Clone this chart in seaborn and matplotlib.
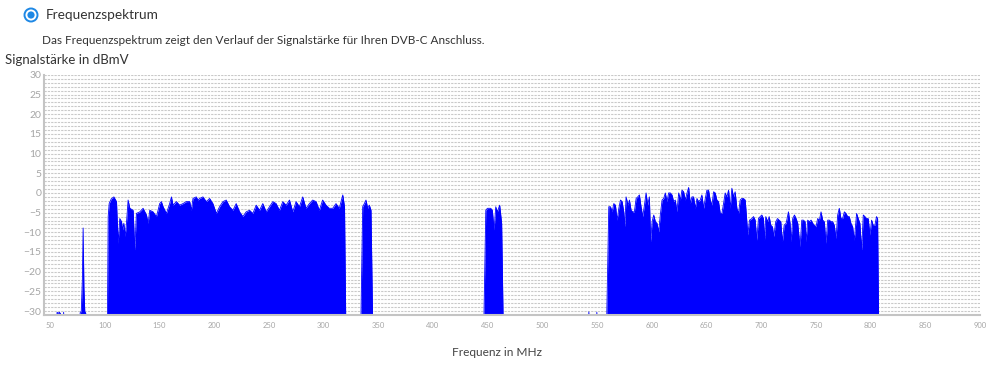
import matplotlib
matplotlib.use("Agg")
import matplotlib.pyplot as plt
from matplotlib.patches import Circle
from matplotlib.transforms import IdentityTransform
from matplotlib.ticker import MultipleLocator
import seaborn as sns

# spectrum (MHz, dBmV); -35 = below the visible floor
freq_mhz = [
    45, 55.5, 56.5, 57.5, 58.5, 59.5, 60.5, 62.0, 62.5, 63.0,
    77.0, 77.6, 78.6, 79.6, 80.3, 81.0, 81.8, 82.6, 83.2,
    102.4, 103.2, 104.1, 106.0, 108.4, 110.8, 112.3, 113.8, 115.4, 116.3, 117.5, 118.7,
    119.9, 121.4, 123.0, 126.0, 127.5, 129.0, 132.1, 135.1, 138.2, 139.7, 141.2, 144.2,
    147.3, 150.3, 151.8, 153.4, 156.4, 159.4, 161.0, 162.5, 165.5, 168.5, 171.6, 174.6,
    177.7, 179.2, 180.7, 183.7, 185.3, 186.8, 189.8, 192.9, 195.9, 198.9, 202.0, 205.0,
    208.1, 211.1, 214.1, 217.2, 220.2, 223.3, 226.3, 229.3, 232.4, 235.4, 238.5, 241.5,
    244.5, 247.6, 250.6, 253.7, 256.7, 259.7, 262.8, 265.8, 268.9, 271.9, 274.9, 278.0,
    281.0, 284.0, 287.1, 290.1, 293.2, 296.2, 299.2, 302.3, 305.3, 308.4, 311.4, 314.4,
    317.6, 319.2, 320.4,
    334.0, 335.8, 337.3, 338.8, 340.4, 341.9, 343.4, 345.0,
    446.4, 448.3, 449.8, 452.8, 454.3, 455.9, 457.4, 458.9, 461.0, 462.8, 464.3,
    541.7, 542.5, 543.3, 549.0, 549.8, 550.6,
    558.6, 560.7, 562.3, 563.8, 565.3, 566.8, 568.3, 569.9, 571.4, 572.9, 574.4, 575.3,
    576.5, 578.4, 579.6, 581.1, 582.6, 584.1, 585.7, 587.2, 588.7, 590.2, 591.7, 593.3,
    594.8, 596.3, 597.8, 599.0, 600.3, 601.8, 603.3, 604.8, 606.3, 607.8, 609.4, 610.9,
    612.4, 613.9, 615.4, 617.0, 618.5, 620.0, 621.5, 623.0, 624.6, 626.1, 627.6, 629.1,
    630.6, 632.2, 633.7, 635.2, 636.7, 638.2, 639.8, 641.3, 642.8, 644.3, 645.8, 647.4,
    648.9, 650.4, 651.9, 653.4, 655.0, 656.5, 658.0, 659.5, 661.0, 662.6, 664.1, 665.6,
    667.1, 668.6, 670.2, 671.7, 673.2, 674.7, 676.2, 677.8, 679.3, 680.8, 682.3, 683.8,
    685.4, 686.9, 687.8, 689.3, 691.5, 693.0, 694.5, 696.0, 697.5, 699.1, 700.6, 702.1,
    703.0, 704.2, 706.0, 707.3, 708.8, 710.3, 711.5, 713.3, 714.9, 716.4, 717.9, 719.4,
    721.0, 722.8, 724.9, 726.4, 727.3, 728.8, 730.4, 731.9, 733.4, 735.5, 737.1, 738.6,
    740.1, 741.0, 742.5, 744.0, 745.6, 747.1, 748.6, 750.1, 751.6, 753.2, 754.7, 756.2,
    757.7, 759.2, 760.8, 762.3, 763.8, 765.3, 766.8, 768.4, 769.9, 771.4, 772.9, 774.4,
    776.0, 777.5, 779.0, 780.5, 782.0, 783.6, 785.1, 787.2, 788.7, 790.2, 791.8, 793.3,
    794.8, 796.3, 797.8, 799.4, 800.9, 802.4, 803.9, 805.4, 806.4, 807.4,
    900,
]
level_dbmv = [
    -35, -35, -30.3, -30.6, -30.3, -30.6, -35, -35, -30.3, -35,
    -35, -30.4, -30.0, -22.0, -8.9, -24.0, -30.2, -30.4, -35,
    -35, -6.0, -2.7, -1.5, -1.0, -2.2, -12.8, -6.5, -7.3, -9.4, -7.7, -11.1,
    -7.7, -1.8, -3.9, -4.4, -14.5, -5.2, -4.8, -3.9, -5.6, -7.7, -4.4, -4.8,
    -6.0, -2.7, -2.2, -3.5, -5.2, -2.7, -1.0, -3.1, -2.2, -3.1, -2.7, -2.2,
    -2.2, -4.4, -1.4, -1.0, -1.8, -1.4, -1.0, -2.2, -1.4, -2.7, -5.2, -3.5,
    -2.2, -1.8, -3.5, -4.4, -2.7, -4.8, -6.0, -4.8, -4.4, -5.2, -3.1, -4.4,
    -2.7, -4.8, -3.5, -2.2, -2.7, -4.4, -2.2, -3.1, -1.8, -4.8, -2.2, -3.5,
    -1.0, -3.9, -2.7, -1.8, -2.2, -4.4, -1.8, -3.1, -3.9, -3.9, -2.7, -3.9,
    -0.5, -3.5, -35,
    -35, -3.5, -2.7, -1.8, -3.9, -3.1, -4.4, -35,
    -35, -4.4, -3.9, -3.9, -4.4, -9.4, -3.5, -4.8, -3.1, -7.7, -35,
    -35, -30.2, -35, -35, -30.3, -35,
    -35, -3.5, -3.5, -4.8, -2.7, -3.1, -6.9, -3.9, -1.8, -2.2, -4.8, -8.6,
    -1.0, -3.1, -1.8, -4.4, -4.8, -4.8, -1.4, -1.0, -0.5, -3.5, -6.0, -3.1,
    0.0, -3.1, -1.0, -12.4, -7.3, -5.6, -7.3, -7.7, -9.9, -5.6, -1.8, -1.4,
    0.0, -2.2, 0.0, 0.0, -0.5, -2.2, -1.8, -4.8, 0.0, -1.8, 0.7, 0.3,
    -1.8, 0.0, 1.4, -2.7, -1.0, -1.0, -3.9, -1.4, -2.2, -1.8, -0.5, -3.9,
    -1.4, 0.7, 0.7, -1.8, -3.1, 0.3, 0.0, -1.8, -2.2, -5.2, -5.2, -2.7,
    0.0, -1.0, 0.7, -3.9, 1.2, -1.0, 0.3, -3.9, -5.2, -1.8, -1.4, -1.4,
    -1.8, -7.3, -10.7, -6.9, -6.5, -6.0, -6.9, -12.0, -6.5, -6.0, -5.6, -6.5,
    -12.0, -6.0, -7.3, -6.0, -8.2, -8.6, -11.1, -7.3, -6.5, -6.9, -7.3, -12.4,
    -8.2, -7.7, -4.8, -7.7, -12.4, -6.5, -5.6, -6.5, -7.7, -13.7, -6.9, -6.9,
    -7.3, -12.4, -6.9, -7.3, -6.9, -7.7, -8.2, -8.6, -6.5, -6.9, -4.8, -6.9,
    -7.3, -12.8, -6.9, -6.9, -7.3, -7.3, -8.2, -11.6, -5.6, -3.9, -6.5, -6.5,
    -4.8, -5.2, -6.0, -6.0, -7.7, -8.6, -12.0, -5.2, -6.5, -7.7, -14.5, -5.6,
    -6.0, -6.5, -6.5, -10.7, -6.9, -8.2, -8.2, -6.0, -6.5, -35,
    -35,
]
x_ticks = list(range(50, 901, 50))
y_ticks = list(range(-30, 31, 5))

sns.set_style("white")
plt.rcParams["font.family"] = ["Lato", "DejaVu Sans"]

fig = plt.figure(figsize=(9.99, 3.65), dpi=100)
ax = fig.add_axes([0.044, 0.137, 0.937, 0.658])

ax.fill_between(freq_mhz, level_dbmv, -40, color="#0000ff", linewidth=0)
sns.lineplot(x=freq_mhz, y=level_dbmv, color="#0000ff", linewidth=0.6, ax=ax)

ax.set_xlim(44.5, 900)
ax.set_ylim(-31, 30)
ax.set_xticks(x_ticks)
ax.set_yticks(y_ticks)
ax.yaxis.set_minor_locator(MultipleLocator(1))
ax.grid(which="both", axis="y", color="#c9c9c9", linestyle=(0, (2, 1)), linewidth=0.8)
ax.set_axisbelow(True)
ax.tick_params(axis="both", which="both", length=0)
ax.tick_params(axis="y", labelsize=7.5, labelcolor="#a6a6a6", pad=2)
ax.tick_params(axis="x", labelsize=5.5, labelcolor="#a6a6a6", pad=5)
for side in ["top", "right"]:
    ax.spines[side].set_visible(False)
for side in ["left", "bottom"]:
    ax.spines[side].set_color("#c4c4c4")
    ax.spines[side].set_linewidth(1.5)
ax.set_xlabel("")
ax.set_ylabel("")

# header and axis titles, placed in figure pixels
H = 365
W = 999
ring = Circle((31, H - 15), 6.5, transform=IdentityTransform(), facecolor="white",
              edgecolor="#1e88e5", linewidth=1.4)
dot = Circle((31, H - 15), 3.6, transform=IdentityTransform(), facecolor="#1e88e5",
             edgecolor="none")
fig.add_artist(ring)
fig.add_artist(dot)
fig.text(46 / W, 1 - 15 / H, "Frequenzspektrum", fontsize=9.8, color="#333333", va="center")
fig.text(42 / W, 1 - 40 / H,
         "Das Frequenzspektrum zeigt den Verlauf der Signalstärke für Ihren DVB-C Anschluss.",
         fontsize=8.45, color="#333333", va="center")
fig.text(5 / W, 1 - 60 / H, "Signalstärke in dBmV", fontsize=9.5, color="#333333", va="center")
fig.text(497 / W, 1 - 352 / H, "Frequenz in MHz", fontsize=8.6, color="#444444",
         ha="center", va="center")

fig.savefig("out.png", dpi=100)
